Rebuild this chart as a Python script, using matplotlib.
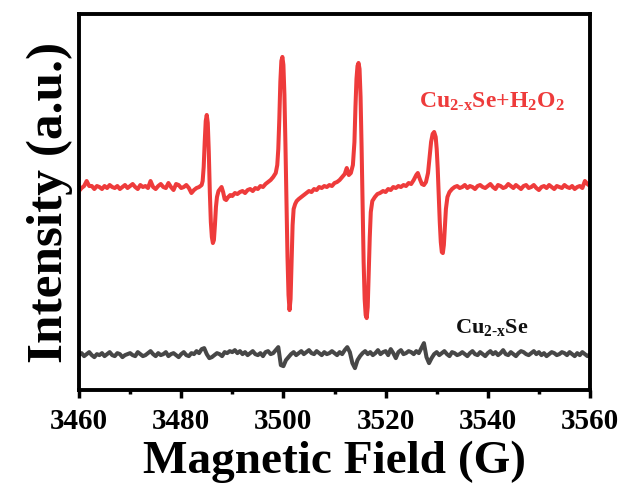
import matplotlib
matplotlib.use("Agg")
import matplotlib.pyplot as plt
import numpy as np
from matplotlib.ticker import MultipleLocator

# red trace: Cu2-xSe + H2O2 (field in G, intensity in a.u. relative to baseline)
red_field = [
    3460.0, 3460.5, 3461.0, 3461.5, 3462.0, 3462.5, 3463.0, 3463.5, 3464.0, 3464.5,
    3465.0, 3465.5, 3466.0, 3466.5, 3467.0, 3467.5, 3468.0, 3468.5, 3469.0, 3469.5,
    3470.0, 3470.5, 3471.0, 3471.5, 3472.0, 3472.5, 3473.0, 3473.5, 3474.0, 3474.5,
    3475.0, 3475.5, 3476.0, 3476.5, 3477.0, 3477.5, 3478.0, 3478.5, 3479.0, 3479.5,
    3480.0, 3480.5, 3481.0, 3481.5, 3482.0, 3482.5, 3483.0, 3483.5,
    3484.0, 3484.2, 3484.4, 3484.6, 3484.8, 3485.0, 3485.2, 3485.4, 3485.6, 3485.8,
    3486.0, 3486.2, 3486.4, 3486.6, 3486.8, 3487.0, 3487.3, 3487.6, 3487.9, 3488.2,
    3488.5, 3488.8, 3489.2, 3489.6, 3490.0, 3490.5, 3491.0, 3491.5, 3492.0, 3492.5,
    3493.0, 3493.5, 3494.0, 3494.5, 3495.0, 3495.5, 3496.0, 3496.5, 3497.0, 3497.5,
    3498.0, 3498.5, 3498.8, 3499.0, 3499.2, 3499.4, 3499.6, 3499.8, 3500.0, 3500.2,
    3500.4, 3500.6, 3500.8, 3501.0, 3501.2, 3501.4, 3501.6, 3501.8, 3502.0, 3502.3,
    3502.6, 3503.0, 3503.5, 3504.0, 3504.5, 3505.0, 3505.5, 3506.0, 3506.5, 3507.0,
    3507.5, 3508.0, 3508.5, 3509.0, 3509.5, 3510.0, 3510.5, 3511.0, 3511.5, 3512.0,
    3512.4, 3512.8, 3513.2, 3513.6, 3513.9, 3514.1, 3514.3, 3514.5, 3514.7, 3514.9,
    3515.1, 3515.3, 3515.5, 3515.7, 3515.9, 3516.1, 3516.3, 3516.5, 3516.7, 3516.9,
    3517.1, 3517.4, 3517.9, 3518.4, 3518.9, 3519.5, 3520.0, 3520.5, 3521.0, 3521.5,
    3522.0, 3522.5, 3523.0, 3523.5, 3524.0, 3524.5, 3525.0, 3525.5, 3526.0, 3526.3,
    3526.7, 3527.1, 3527.5, 3527.9, 3528.3, 3528.6, 3528.9, 3529.2, 3529.5, 3529.8,
    3530.0, 3530.2, 3530.4, 3530.6, 3530.8, 3531.0, 3531.2, 3531.4, 3531.6, 3531.8,
    3532.1, 3532.5, 3533.0, 3533.5,
    3534.0, 3534.5, 3535.0, 3535.5, 3536.0, 3536.5, 3537.0, 3537.5, 3538.0, 3538.5,
    3539.0, 3539.5, 3540.0, 3540.5, 3541.0, 3541.5, 3542.0, 3542.5, 3543.0, 3543.5,
    3544.0, 3544.5, 3545.0, 3545.5, 3546.0, 3546.5, 3547.0, 3547.5, 3548.0, 3548.5,
    3549.0, 3549.5, 3550.0, 3550.5, 3551.0, 3551.5, 3552.0, 3552.5, 3553.0, 3553.5,
    3554.0, 3554.5, 3555.0, 3555.5, 3556.0, 3556.5, 3557.0, 3557.5, 3558.0, 3558.5,
    3559.0, 3559.5, 3560.0,
]
red_int = [
    -4, -1, 1, 6, 1, 1, -2, 1, 0, -2,
    1, -1, 2, 0, -1, 1, -2, 0, 2, -1,
    1, 3, 0, -2, 2, 0, 1, -1, 6, 0,
    -2, 1, 3, 0, -1, 4, 0, -3, 3, 2,
    -1, 0, 2, -1, -6, -3, -1, 0,
    2, 6, 20, 45, 66, 72, 64, 35, -5, -35,
    -50, -56, -53, -38, -20, -10, -4, -2, 0, -5,
    -12, -13, -10, -8, -9, -6, -7, -5, -4, -6,
    -3, -2, -4, -1, -2, 1, 0, 3, 5, 7,
    10, 14, 22, 38, 68, 105, 126, 130, 122, 92,
    42, -15, -70, -108, -123, -112, -75, -38, -22, -17,
    -14, -12, -10, -8, -6, -4, -5, -2, -3, 0,
    -1, 1, 0, 2, 1, 4, 5, 7, 10, 13,
    19, 12, 14, 22, 45, 80, 108, 121, 124, 118,
    90, 40, -20, -75, -112, -128, -131, -120, -85, -50,
    -25, -14, -10, -7, -6, -4, -5, -2, -3, 0,
    -1, 1, 0, 2, 1, 4, 3, 7, 12, 14,
    8, 3, 2, 5, 14, 30, 45, 53, 55, 50,
    38, 18, -8, -35, -55, -65, -66, -58, -40, -22,
    -10, -5, -2, 0,
    1, -1, 0, 2, -1, 1, 0, -2, 1, 2,
    0, -1, 1, 3, 0, -2, 2, 1, -1, 0,
    3, 1, -1, 2, 0, -2, 1, 2, -1, 0,
    2, -1, -3, 0, 1, -1, 2, 0, -2, 1,
    0, -1, 2, 0, -1, 1, -2, 0, 1, -1,
    6, 3, 1,
]

# grey trace: Cu2-xSe alone, sampled every 0.5 G from 3460 to 3560
grey_field = np.linspace(3460, 3560, 201)
grey_int = [
    0, 2, -1, 1, 3, 0, -2, 1, 0, 2,
    -1, 1, 3, 0, -1, 2, 1, -2, 0, 1,
    2, 0, -1, 3, 1, -1, 0, 2, 4, 1,
    -1, 2, 0, 1, 3, -1, 1, 2, 0, -2,
    1, 3, 0, -1, 2, 1, 4, 2, 6, 7,
    1, -3, -2, 0, 2, 1, -1, 3, 2, 4,
    3, 5, 2, 4, 1, 3, 0, 2, 4, 1,
    0, 2, -1, 3, 4, 1, 2, 5, 8, -10,
    -11, -5, -2, 1, 3, 0, 2, 4, 1, 3,
    5, 2, 1, 4, 2, 0, 3, 1, 2, 4,
    2, 0, 3, 1, 5, 8, 3, -8, -13, -5,
    -1, 2, 4, 1, 3, 0, 2, 5, 1, 3,
    4, 0, 6, 2, -3, 3, 5, 1, 2, 4,
    3, 1, 4, 2, 7, 12, -2, -8, -3, 1,
    3, 0, 2, 4, 1, -1, 3, 2, 0, 1,
    3, 1, -1, 2, 4, 1, 0, 3, 1, -1,
    2, 4, 1, 3, 0, 2, 5, 1, 0, 3,
    1, -1, 2, 4, 3, 1, 0, 2, 4, 1,
    3, 0, 2, -1, 1, 3, 2, 0, 1, 3,
    2, 0, 3, 1, -1, 2, 0, 3, 1, -1,
    1,
]

RED_OFFSET = 203
GREY_OFFSET = 35
RED = "#ee3b3b"
GREY = "#474747"

plt.rcParams["font.family"] = ["Liberation Serif", "DejaVu Serif"]
plt.rcParams["font.weight"] = "bold"
plt.rcParams["mathtext.fontset"] = "custom"
plt.rcParams["mathtext.rm"] = "Liberation Serif:bold"
plt.rcParams["mathtext.it"] = "Liberation Serif:bold"
plt.rcParams["mathtext.bf"] = "Liberation Serif:bold"

fig = plt.figure(figsize=(6.27, 4.97), dpi=100)
ax = fig.add_axes([0.126, 0.215, 0.815, 0.757])

ax.plot(red_field, np.array(red_int) + RED_OFFSET, color=RED, lw=2.9)
ax.plot(grey_field, np.array(grey_int) + GREY_OFFSET, color=GREY, lw=2.9)

ax.set_xlim(3460, 3560)
ax.set_ylim(0, 376)
ax.xaxis.set_major_locator(MultipleLocator(20))
ax.xaxis.set_minor_locator(MultipleLocator(10))
ax.set_yticks([])
ax.tick_params(axis="x", which="major", direction="out", length=6, width=2.5,
               labelsize=21, pad=7)
ax.tick_params(axis="x", which="minor", direction="out", length=3, width=2.5)
for sp in ax.spines.values():
    sp.set_linewidth(2.8)

ax.set_xlabel("Magnetic Field (G)", fontsize=34, fontweight="bold", labelpad=4)
ax.set_ylabel("Intensity (a.u.)", fontsize=37, fontweight="bold", labelpad=4)

ax.text(3526.5, 282, r"Cu$_{\mathrm{2\text{-}x}}$Se+H$_\mathrm{2}$O$_\mathrm{2}$",
        color=RED, fontsize=17, fontweight="bold")
ax.text(3533.5, 57, r"Cu$_{\mathrm{2\text{-}x}}$Se", color="#111111",
        fontsize=16, fontweight="bold")

fig.savefig("out.png", dpi=100)
